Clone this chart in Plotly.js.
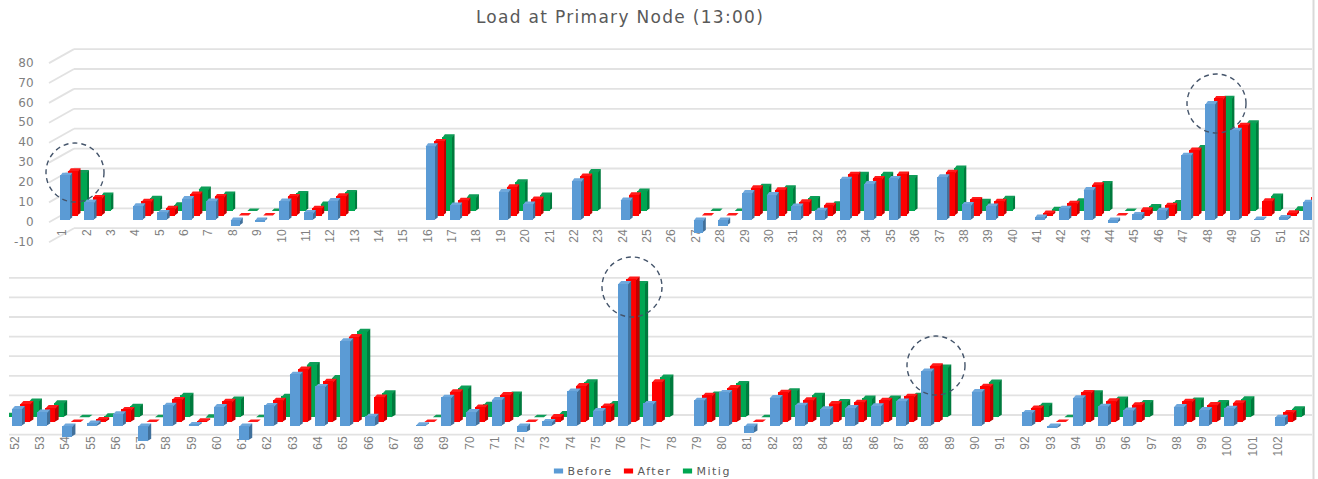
<!DOCTYPE html>
<html>
<head>
<meta charset="utf-8">
<script src="https://cdn.plot.ly/plotly-3.0.1.min.js"></script>
<style>
html,body{margin:0;padding:0;background:#fff}
#chart{width:1318px;height:479px}
.gtitle{letter-spacing:1.3px}
.legend .legendtext{letter-spacing:1.5px}
</style>
</head>
<body>
<div id="chart"></div>
<script>
const categories = [
  1,2,3,4,5,6,7,8,9,10,
  11,12,13,14,15,16,17,18,19,20,
  21,22,23,24,25,26,27,28,29,30,
  31,32,33,34,35,36,37,38,39,40,
  41,42,43,44,45,46,47,48,49,50,
  51,52,53,54,55,56,57,58,59,60,
  61,62,63,64,65,66,67,68,69,70,
  71,72,73,74,75,76,77,78,79,80,
  81,82,83,84,85,86,87,88,89,90,
  91,92,93,94,95,96,97,98,99,100,
  101,102];
const before = [
  22.5,9.1,null,7.1,3.8,10.8,9.6,-2.8,-0.8,9.6,
  3.8,9.8,null,null,null,37.3,7.6,null,14.3,8.0,
  null,19.7,null,10.1,null,null,-6.3,-2.8,13.8,12.8,
  7.0,4.9,20.5,18.3,20.9,null,21.7,7.8,7.0,null,
  1.5,5.9,15.3,-1.5,2.8,4.9,32.6,58.5,45.1,0.5,
  1.3,8.9,7.2,-5.5,1.5,6.2,-7.8,10.6,0.8,9.9,
  -7.3,10.5,26.4,20.2,43.5,5.0,null,0.6,14.7,7.4,
  13.5,-3.2,2.3,17.9,7.9,72.7,11.5,null,13.2,17.1,
  -3.6,14.5,10.6,8.8,9.4,10.3,12.7,28.1,null,17.6,
  null,6.9,-1.2,14.4,10.1,8.1,null,9.9,8.4,9.1,
  null,4.5];
const after = [
  22.5,9.1,null,7.1,3.7,10.8,9.6,0,0,9.6,
  3.7,9.9,null,null,null,37.2,7.7,null,14.5,8.3,
  null,19.8,null,10.4,null,null,0,0,13.9,12.9,
  6.9,5.2,20.7,18.6,20.8,null,21.7,8.1,7.1,null,
  1.3,6.1,15.5,0,2.9,5.1,32.9,58.8,45.3,7.4,
  1.4,9.4,7.4,0,1.3,6.4,0,11.5,0.6,10.6,
  0,11.1,27.1,20.8,43.6,12.8,null,0,15.4,7.6,
  14.0,0,2.8,18.6,8.1,73.0,20.5,null,13.7,17.6,
  0,15.2,11.3,9.4,10.1,11.1,13.2,28.7,null,18.3,
  null,7.2,0,15.1,10.8,8.8,null,10.6,8.9,9.8,
  null,4.9];
const mitig = [
  19.3,8.1,null,6.4,3.1,11.0,8.5,0,0,8.8,
  3.5,9.3,null,null,null,37.3,7.1,null,14.7,8.1,
  null,19.8,null,10.1,null,null,0,0,12.5,11.7,
  6.3,3.6,18.5,18.5,16.8,null,21.6,4.9,6.4,null,
  0.9,5.1,13.8,0,2.3,4.3,31.9,56.6,44.3,7.5,
  1.1,8.3,7.4,0,0.8,5.7,0,11.2,0.3,9.3,
  0,10.7,26.9,20.3,43.9,12.5,null,0,15.0,6.7,
  11.9,0,1.9,18.2,7.1,68.3,20.5,null,11.9,17.3,
  0,13.5,11.2,8.0,9.8,9.8,11.3,25.6,null,18.0,
  null,6.2,0,12.5,9.3,7.6,null,8.8,7.6,9.5,
  null,4.3];
const yTickLabels = [-10,0,10,20,30,40,50,60,70,80];
const gridLevelsTop = [-10,0,10,20,30,40,50,60,70,80];
const gridLevelsBottom = [-10,0,10,20,30,40,50,60,70];
const seriesNames = ['Before','After','Mitig'];
const seriesValues = [before, after, mitig];
const frontColors = ['#5b9bd5','#ff0000','#00a651'];
const sideColors  = ['#41719c','#c00000','#007a3d'];
const topColors   = ['#6fa8dc','#ff1a1a','#0f9d58'];

const W = 1318, H = 479;
const fx = p => p / W, fy = p => 1 - p / H;

// Pixel geometry of each panel (tick px of two categories, y scale etc.)
const rows = [
  {xa:'x', ya:'y', first:1, last:52, domL:49, domR:1312, domT:40, domB:245,
   c0:1, p0:62.3, ppu:24.37, zero:220, ppy:1.99, axisY:226,
   offs:[-2.3,6,14.5], bw:9.7, depthX:2.5, lift:[0,4.5,9], wall:208.3, grid:gridLevelsTop, wallL:74, floorL:49},
  {xa:'x2', ya:'y2', first:51, last:102, domL:9, domR:1312, domT:262, domB:450,
   c0:52, p0:15, ppu:25.26, zero:426, ppy:1.96, axisY:433,
   offs:[-3.3,5.2,13.7], bw:10, depthX:3.2, lift:[0,4,8.7], wall:415, grid:gridLevelsBottom, wallL:9, floorL:null}
];
const depthY = 2.5;

const traces = [], shapes = [], layout = {};
const gridColor = '#e2e2e2';

rows.forEach((r, ri) => {
  const xOf = p => r.c0 + (p - r.p0) / r.ppu;
  const yOf = p => (r.zero - p) / r.ppy;
  const idx = categories.map((c,i)=>i).filter(i => categories[i]>=r.first && categories[i]<=r.last);
  // draw back to front: Mitig, After, Before
  [2,1,0].forEach((s, order) => {
    const off = r.offs[s]/r.ppu, bw = r.bw/r.ppu, dx = r.depthX/r.ppu, dy = depthY/r.ppy, base = r.lift[s]/r.ppy;
    const tuckX = 1/r.ppu, tuckY = 1/r.ppy; // faces tuck 1px under the front so no seam shows
    const sx=[], sy=[], tx=[], ty=[];
    idx.forEach(i => {
      const v = seriesValues[s][i]; if (v === null) return;
      const c = categories[i], L = c+off, R = L+bw;
      const top = Math.max(v,0)+base, bot = Math.min(v,0)+base;
      const tuckTop = v === 0 ? 0 : tuckY;
      sx.push(R-tuckX,R+dx,R+dx,R-tuckX,null); sy.push(bot,bot+dy,top+dy,top,null);
      tx.push(L,R,R+dx,L+dx,L,null); ty.push(top-tuckTop,top-tuckTop,top+dy,top+dy,top-tuckTop,null);
    });
    [[sx,sy,sideColors[s]],[tx,ty,topColors[s]]].forEach(([a,b,col]) => traces.push({
      type:'scatter', mode:'none', x:a, y:b, fill:'toself', fillcolor:col, xaxis:r.xa, yaxis:r.ya,
      hoverinfo:'skip', showlegend:false, zorder:order*2+1
    }));
    traces.push({
      type:'bar', name:seriesNames[s], x:idx.map(i=>categories[i]), y:idx.map(i=>seriesValues[s][i]),
      base:base, offset:off, width:bw, xaxis:r.xa, yaxis:r.ya,
      marker:{color:frontColors[s], line:{width:0}}, zorder:order*2+2,
      legendgroup:seriesNames[s], showlegend:ri===0, hovertemplate:'%{x}: %{y}<extra>'+seriesNames[s]+'</extra>'
    });
  });
  const xKey = ri===0?'xaxis':'xaxis2', yKey = ri===0?'yaxis':'yaxis2';
  const tv = categories.filter(c => c>=(ri===0?1:52) && c<=r.last);
  layout[xKey] = {
    domain:[fx(r.domL),fx(r.domR)], range:[xOf(r.domL),xOf(r.domR)], type:'linear',
    anchor:'free', position:fy(r.axisY), side:'bottom',
    tickmode:'array', tickvals:tv, ticktext:tv.map(String), tickangle:-90,
    ticks:'', showgrid:false, zeroline:false, showline:false, layer:'below traces', automargin:false,
    tickfont:{family:'"Liberation Sans Narrow","Liberation Sans",Arial,sans-serif', size:12, color:'#7f7f7f'}
  };
  layout[yKey] = {
    domain:[fy(r.domB),fy(r.domT)], range:[yOf(r.domB),yOf(r.domT)], anchor:r.xa,
    showgrid:false, zeroline:false, showline:false, fixedrange:true, automargin:false,
    tickmode:'array',
    tickvals: ri===0 ? yTickLabels.map(v => v - 1.7/r.ppy) : [],
    ticktext: ri===0 ? yTickLabels.map(String) : [],
    ticks:'outside', ticklen:12, tickcolor:'rgba(0,0,0,0)', showticklabels:ri===0,
    tickfont:{family:'"DejaVu Sans",sans-serif', size:12, color:'#7f7f7f'}
  };
  // Back-wall grid lines and the floor diagonals
  r.grid.forEach(v => {
    const p = r.wall - v*r.ppy;
    shapes.push({type:'line', layer:'below', xref:'paper', yref:'paper',
      x0:fx(r.wallL), x1:fx(r.domR), y0:fy(p), y1:fy(p), line:{color:gridColor,width:1.8}});
    if (r.floorL !== null) shapes.push({type:'line', layer:'below', xref:'paper', yref:'paper',
      x0:fx(r.floorL), x1:fx(r.wallL), y0:fy(p+14), y1:fy(p), line:{color:gridColor,width:1.8}});
  });
});

// Dashed highlight circles
[[46,143,104,202],[1187,74,1246,133],[602,257,662,317],[907,336,965,395]].forEach(c => shapes.push({
  type:'circle', xref:'paper', yref:'paper', x0:fx(c[0]), x1:fx(c[2]), y0:fy(c[3]), y1:fy(c[1]),
  line:{color:'#44546a', width:1.4, dash:'5px,4px'}, layer:'above'
}));
// Right-hand frame line
shapes.push({type:'line', xref:'paper', yref:'paper', x0:fx(1313.5), x1:fx(1313.5), y0:0, y1:1,
  line:{color:'#d9d9d9', width:2}, layer:'below'});

Object.assign(layout, {
  width:W, height:H, margin:{l:0,r:0,t:0,b:0,autoexpand:false}, paper_bgcolor:'#fff', plot_bgcolor:'rgba(0,0,0,0)',
  barmode:'overlay', bargap:0,
  title:{text:'Load at Primary Node (13:00)', x:fx(620), y:fy(17), xref:'paper', yref:'container',
    xanchor:'center', yanchor:'middle', font:{family:'"DejaVu Sans",sans-serif', size:17, color:'#595959'}},
  legend:{orientation:'h', x:fx(534), xanchor:'left', y:fy(471), yanchor:'middle', traceorder:'reversed',
    font:{family:'"DejaVu Sans",sans-serif', size:11, color:'#595959'}, bgcolor:'rgba(0,0,0,0)', itemwidth:30},
  shapes:shapes
});
// Legend key layout of the original: small wide keys close to their labels
const legendKeyCentres = [558.5, 628.5, 687.5];
Plotly.newPlot('chart', traces, layout, {displayModeBar:false, staticPlot:true}).then(gd => {
  const legend = gd.querySelector('.legend');
  const box = legend.getBoundingClientRect();
  const entries = [...legend.querySelectorAll('.traces')];
  const ty = entries[0].getAttribute('transform').match(/,\s*([\d.\-]+)\)/)[1];
  entries.forEach((g, i) => {
    g.setAttribute('transform', `translate(${legendKeyCentres[i] - box.left - 20},${ty})`);
    g.querySelectorAll('.legendpoints path').forEach(p => {
      if (p.getAttribute('d')) p.setAttribute('d','M4.6,2.6H-4.6V-2.6H4.6Z');
    });
    const t = g.querySelector('.legendtext');
    t.setAttribute('x', 29);
    t.querySelectorAll('tspan').forEach(s => s.setAttribute('x', 29));
  });
});
</script>
</body>
</html>
